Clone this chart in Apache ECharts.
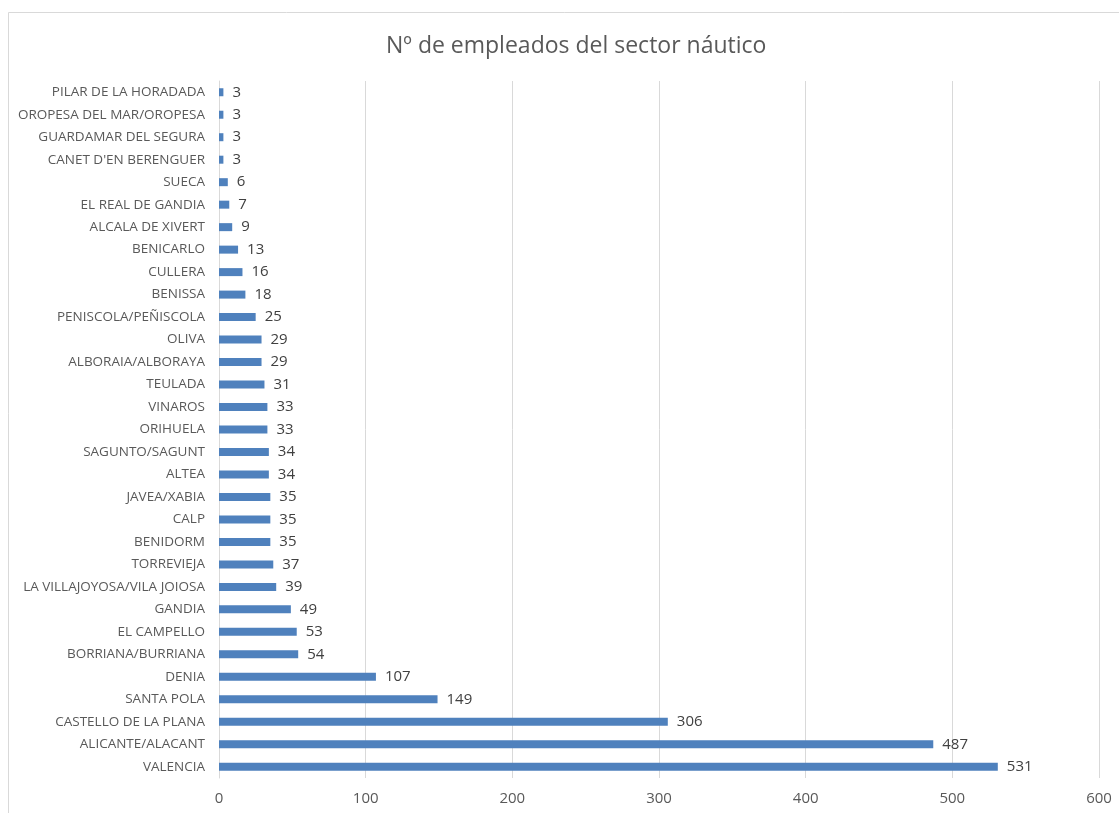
<!DOCTYPE html>
<html>
<head>
<meta charset="utf-8">
<script src="https://cdn.jsdelivr.net/npm/echarts@6/dist/echarts.min.js"></script>
<style>
  html, body { margin: 0; padding: 0; background: #ffffff; }
  #chart { width: 1119px; height: 813px; }
</style>
</head>
<body>
<div id="chart"></div>
<script>
// Municipalities, listed bottom-to-top on the category axis
const municipios = [
  'VALENCIA', 'ALICANTE/ALACANT', 'CASTELLO DE LA PLANA', 'SANTA POLA', 'DENIA',
  'BORRIANA/BURRIANA', 'EL CAMPELLO', 'GANDIA', 'LA VILLAJOYOSA/VILA JOIOSA', 'TORREVIEJA',
  'BENIDORM', 'CALP', 'JAVEA/XABIA', 'ALTEA', 'SAGUNTO/SAGUNT',
  'ORIHUELA', 'VINAROS', 'TEULADA', 'ALBORAIA/ALBORAYA', 'OLIVA',
  'PENISCOLA/PEÑISCOLA', 'BENISSA', 'CULLERA', 'BENICARLO', 'ALCALA DE XIVERT',
  'EL REAL DE GANDIA', 'SUECA', "CANET D'EN BERENGUER", 'GUARDAMAR DEL SEGURA',
  'OROPESA DEL MAR/OROPESA', 'PILAR DE LA HORADADA'
];

// Employees in the nautical sector per municipality
const empleados = [
  531, 487, 306, 149, 107,
  54, 53, 49, 39, 37,
  35, 35, 35, 34, 34,
  33, 33, 31, 29, 29,
  25, 18, 16, 13, 9,
  7, 6, 3, 3, 3, 3
];

// Value axis range
const ejeMin = 0;
const ejeMax = 600;
const ejePaso = 100;

const titulo = 'Nº de empleados del sector náutico';

const chart = echarts.init(document.getElementById('chart'), null, { renderer: 'canvas' });

chart.setOption({
  animation: false,
  backgroundColor: '#ffffff',
  textStyle: { fontFamily: 'Open Sans' },
  graphic: [{
    type: 'rect',
    shape: { x: 8.5, y: 12.5, width: 1130, height: 820 },
    style: { fill: 'none', stroke: '#d9d9d9', lineWidth: 1 },
    silent: true,
    z: -1
  }],
  title: {
    text: titulo,
    left: 381,
    top: 30,
    textStyle: { fontFamily: 'Open Sans', fontSize: 23, fontWeight: 'normal', color: '#595959' }
  },
  grid: { left: 219, right: 20, top: 81, bottom: 35, containLabel: false },
  xAxis: {
    type: 'value',
    min: ejeMin,
    max: ejeMax,
    interval: ejePaso,
    axisLine: { show: false },
    axisTick: { show: false },
    splitLine: { show: true, lineStyle: { color: '#d9d9d9', width: 1 } },
    axisLabel: { color: '#595959', fontSize: 15, margin: 13, fontFamily: 'Open Sans' }
  },
  yAxis: {
    type: 'category',
    data: municipios,
    axisLine: { show: true, lineStyle: { color: '#d9d9d9', width: 1 } },
    axisTick: { show: false },
    axisLabel: { color: '#595959', fontSize: 13.5, margin: 14, fontFamily: 'Open Sans' }
  },
  series: [{
    type: 'bar',
    data: empleados,
    barWidth: 8,
    itemStyle: { color: '#4f81bd' },
    label: {
      show: true,
      position: 'right',
      distance: 9,
      color: '#404040',
      fontSize: 15,
      fontFamily: 'Open Sans'
    }
  }]
});
</script>
</body>
</html>
